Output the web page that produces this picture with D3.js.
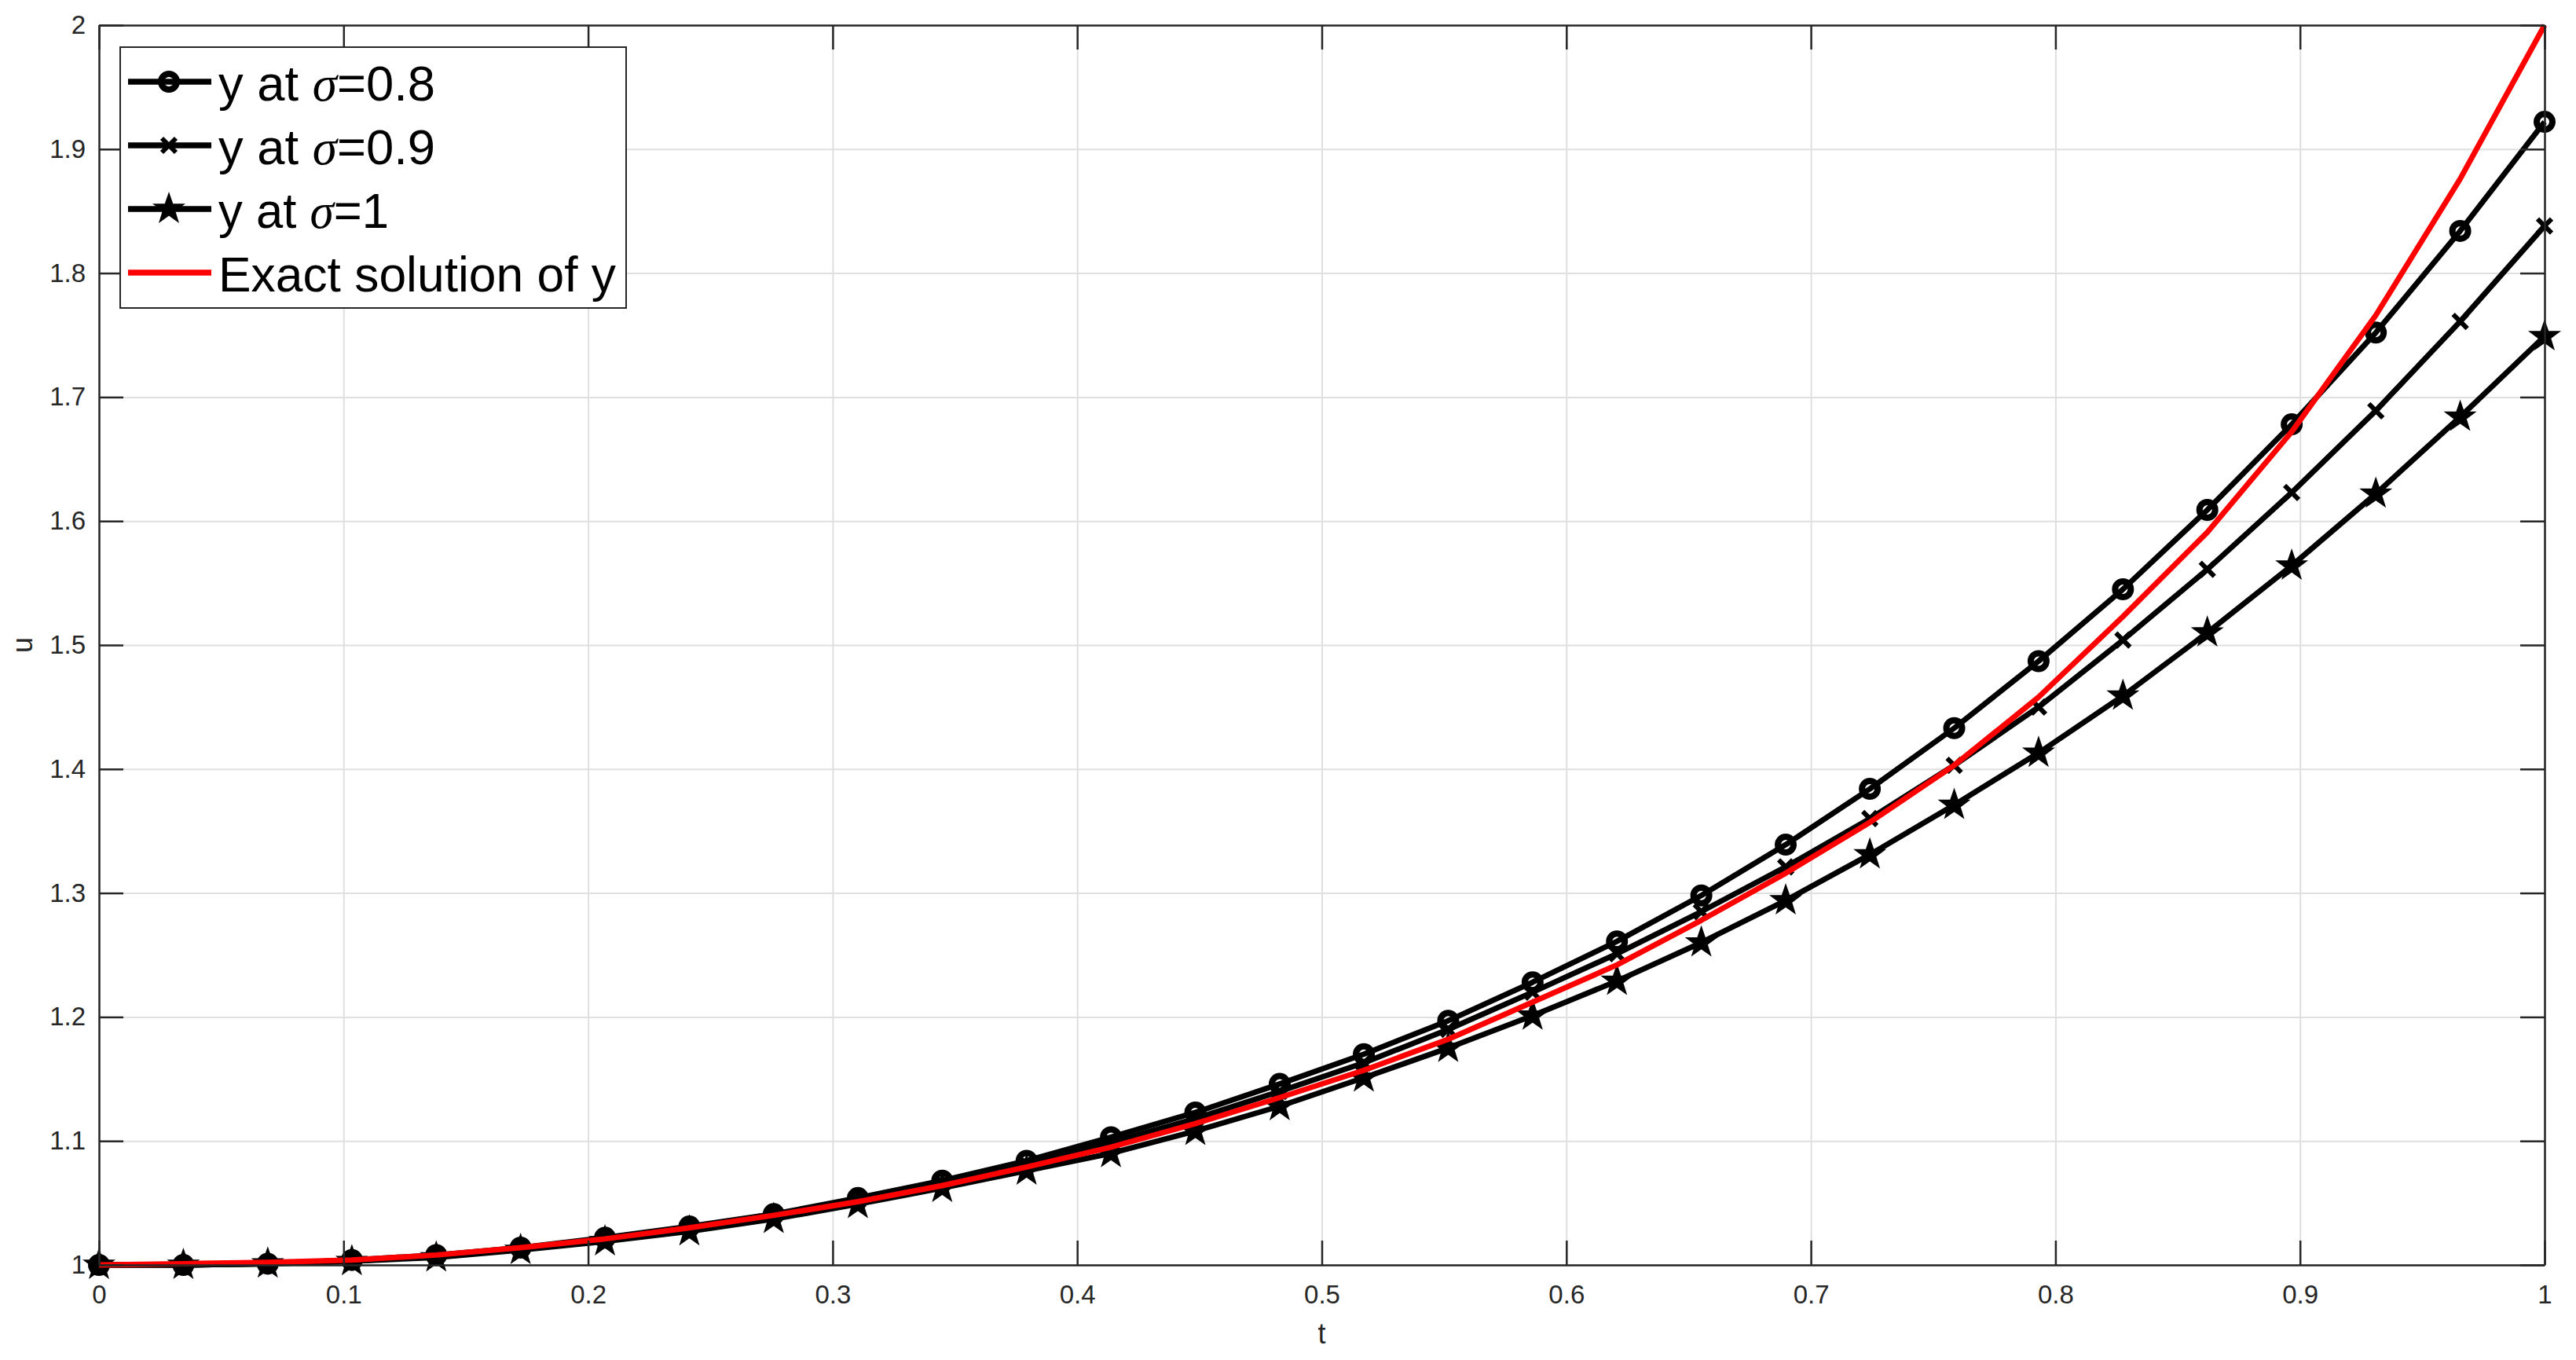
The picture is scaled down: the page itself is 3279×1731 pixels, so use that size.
<!DOCTYPE html>
<html>
<head>
<meta charset="utf-8">
<script src="https://cdn.jsdelivr.net/npm/d3@7"></script>
<style>
  body { margin: 0; background: #fff; }
  svg text { font-family: Arial, "Liberation Sans", Helvetica, sans-serif; fill: #262626; }
</style>
</head>
<body>
<div id="chart"></div>
<script>

// time points (30 samples on [0,1])
var tValues = [0, 0.0345, 0.069, 0.1034, 0.1379, 0.1724, 0.2069, 0.2414, 0.2759, 0.3103,
  0.3448, 0.3793, 0.4138, 0.4483, 0.4828, 0.5172, 0.5517, 0.5862, 0.6207, 0.6552,
  0.6897, 0.7241, 0.7586, 0.7931, 0.8276, 0.8621, 0.8966, 0.931, 0.9655, 1];

// y at sigma = 0.8 (circles)
var ySigma08 = [1.000, 1.000, 1.001, 1.004, 1.008, 1.014, 1.022, 1.031, 1.041, 1.054,
  1.068, 1.084, 1.103, 1.123, 1.146, 1.170, 1.197, 1.228, 1.261, 1.298,
  1.339, 1.384, 1.433, 1.487, 1.545, 1.609, 1.678, 1.752, 1.834, 1.922];

// y at sigma = 0.9 (crosses)
var ySigma09 = [1.000, 1.000, 1.001, 1.003, 1.007, 1.013, 1.021, 1.030, 1.040, 1.052,
  1.066, 1.081, 1.099, 1.118, 1.140, 1.163, 1.190, 1.220, 1.251, 1.285,
  1.321, 1.360, 1.403, 1.450, 1.504, 1.561, 1.623, 1.689, 1.761, 1.838];

// y at sigma = 1 (stars)
var ySigma1 = [1.000, 1.000, 1.001, 1.003, 1.006, 1.012, 1.019, 1.027, 1.037, 1.049,
  1.062, 1.076, 1.090, 1.108, 1.128, 1.151, 1.175, 1.201, 1.229, 1.260,
  1.294, 1.331, 1.371, 1.413, 1.459, 1.510, 1.564, 1.622, 1.684, 1.749];

// exact solution (red)
var yExact = [1.000, 1.001, 1.002, 1.004, 1.008, 1.014, 1.021, 1.030, 1.040, 1.051,
  1.064, 1.079, 1.095, 1.114, 1.135, 1.157, 1.182, 1.212, 1.242, 1.278,
  1.316, 1.357, 1.403, 1.458, 1.523, 1.591, 1.672, 1.766, 1.876, 2.000];

var xTicks = [0, 0.1, 0.2, 0.3, 0.4, 0.5, 0.6, 0.7, 0.8, 0.9, 1];
var yTicks = [1, 1.1, 1.2, 1.3, 1.4, 1.5, 1.6, 1.7, 1.8, 1.9, 2];

var legendLabels = [["y at ", "σ", "=0.8"], ["y at ", "σ", "=0.9"], ["y at ", "σ", "=1"], ["Exact solution of y"]];
var legendWidths = [276, 276, 217, 506];

var W = 3279, H = 1731;
var margin = {left: 126, right: 40, top: 32, bottom: 121};
var width = W - margin.left - margin.right,
    height = H - margin.top - margin.bottom;
var tickLen = 31;

var svg = d3.select("#chart").append("svg")
    .attr("width", W)
    .attr("height", H)
    .style("display", "block");

var g = svg.append("g")
    .attr("transform", "translate(" + margin.left + "," + margin.top + ")");

var x = d3.scaleLinear().domain([0, 1]).range([0, width]);
var y = d3.scaleLinear().domain([1, 2]).range([height, 0]);

/**
*   grid lines
*/
g.append("g")
    .attr("class", "grid")
    .attr("transform", "translate(0," + height + ")")
    .call(d3.axisBottom(x).tickValues(xTicks).tickSize(-height).tickFormat(""));
g.append("g")
    .attr("class", "grid")
    .call(d3.axisLeft(y).tickValues(yTicks).tickSize(-width).tickFormat(""));
g.selectAll(".grid .domain").remove();
g.selectAll(".grid line")
    .attr("stroke", "#dfdfdf")
    .attr("stroke-width", 2);

/**
*   data series
*/
function seriesData(vals){
  return tValues.map(function(t, i){ return {t: t, v: vals[i]}; });
}

var line = d3.line()
    .x(function(d) { return x(d.t); })
    .y(function(d) { return y(d.v); });

var starPath = (function(){
  var pts = [];
  for (var k = 0; k < 10; k++){
    var r = (k % 2 == 0) ? 19 : 7.5;
    var a = -Math.PI / 2 + k * Math.PI / 5;
    pts.push([r * Math.cos(a), r * Math.sin(a)]);
  }
  return "M" + pts.map(function(p){ return p[0].toFixed(2) + "," + p[1].toFixed(2); }).join("L") + "Z";
})();

function drawMarker(sel, type){
  if (type == "circle"){
    sel.append("circle").attr("r", 10)
      .attr("fill", "none").attr("stroke", "#000").attr("stroke-width", 8);
  } else if (type == "cross"){
    sel.append("path").attr("d", "M-9,-9L9,9M-9,9L9,-9")
      .attr("fill", "none").attr("stroke", "#000").attr("stroke-width", 6);
  } else if (type == "star"){
    sel.append("path").attr("d", starPath)
      .attr("fill", "#000").attr("stroke", "#000").attr("stroke-width", 2)
      .attr("stroke-linejoin", "miter");
  }
}

var series = [
  {vals: ySigma08, marker: "circle", color: "#000"},
  {vals: ySigma09, marker: "cross", color: "#000"},
  {vals: ySigma1, marker: "star", color: "#000"},
  {vals: yExact, marker: null, color: "#ff0000"}
];

// black curves with markers first, red exact line on top
series.forEach(function(s){
  var data = seriesData(s.vals);
  g.append("path")
      .datum(data)
      .attr("fill", "none")
      .attr("stroke", s.color)
      .attr("stroke-width", 7)
      .attr("stroke-linejoin", "round")
      .attr("d", line);

  if (s.marker){
    g.append("g").selectAll("g")
        .data(data)
      .enter().append("g")
        .attr("transform", function(d) { return "translate(" + x(d.t) + "," + y(d.v) + ")"; })
        .each(function(){ drawMarker(d3.select(this), s.marker); });
  }
});

/**
*   axes (box with inward ticks)
*/
var fmt = function(d){ return d3.format("~g")(d); };

var xAxis = g.append("g")
    .attr("transform", "translate(0," + height + ")")
    .call(d3.axisBottom(x).tickValues(xTicks).tickSize(-tickLen).tickSizeOuter(0).tickPadding(26).tickFormat(fmt));
var yAxis = g.append("g")
    .call(d3.axisLeft(y).tickValues(yTicks).tickSize(-tickLen).tickSizeOuter(0).tickPadding(17).tickFormat(fmt));
var topAxis = g.append("g")
    .call(d3.axisTop(x).tickValues(xTicks).tickSize(-tickLen).tickSizeOuter(0).tickFormat(""));
var rightAxis = g.append("g")
    .attr("transform", "translate(" + width + ",0)")
    .call(d3.axisRight(y).tickValues(yTicks).tickSize(-tickLen).tickSizeOuter(0).tickFormat(""));

[xAxis, yAxis, topAxis, rightAxis].forEach(function(a){
  a.select(".domain").attr("stroke", "#262626").attr("stroke-width", 2.5);
  a.selectAll(".tick line").attr("stroke", "#262626").attr("stroke-width", 2.5);
  a.selectAll("text")
    .style("font-size", "33px")
    .attr("fill", "#262626");
});

// axis labels
g.append("text")
    .attr("x", width / 2)
    .attr("y", height + 100)
    .attr("text-anchor", "middle")
    .style("font-size", "36px")
    .text("t");

g.append("text")
    .attr("transform", "translate(" + (41 - margin.left) + "," + (height / 2) + ") rotate(-90)")
    .attr("text-anchor", "middle")
    .style("font-size", "36px")
    .text("u");

/**
*   legend
*/
var legend = svg.append("g").attr("transform", "translate(153,60)");

legend.append("rect")
    .attr("width", 644)
    .attr("height", 332)
    .attr("fill", "#fff")
    .attr("stroke", "#262626")
    .attr("stroke-width", 2);

series.forEach(function(s, i){
  var row = legend.append("g").attr("transform", "translate(0," + (44 + i * 81) + ")");

  row.append("line")
      .attr("x1", 10).attr("x2", 116)
      .attr("stroke", s.color)
      .attr("stroke-width", 7.5);

  if (s.marker){
    drawMarker(row.append("g").attr("transform", "translate(62,0)"), s.marker);
  }

  var txt = row.append("text")
      .attr("x", 125)
      .attr("y", 24)
      .attr("textLength", legendWidths[i])
      .attr("lengthAdjust", "spacingAndGlyphs")
      .style("font-size", "63px")
      .attr("fill", "#000");

  var parts = legendLabels[i];
  txt.append("tspan").text(parts[0]).style("fill", "#000");
  if (parts.length > 1){
    txt.append("tspan").text(parts[1])
        .style("font-family", "'Liberation Serif', 'DejaVu Serif', serif")
        .style("font-style", "italic")
        .style("fill", "#000");
    txt.append("tspan").text(parts[2]).style("fill", "#000");
  }
});

</script>
</body>
</html>
